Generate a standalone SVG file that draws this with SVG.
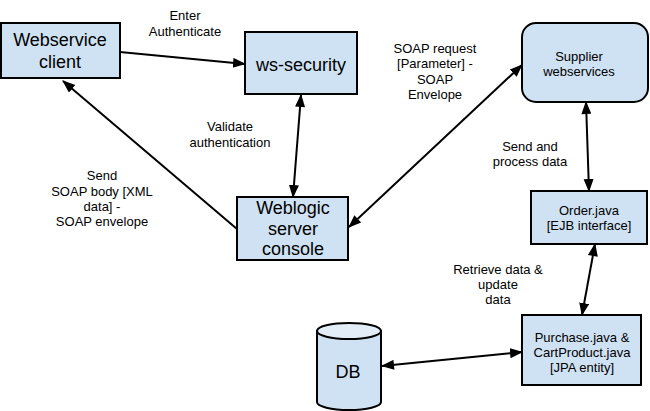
<svg xmlns="http://www.w3.org/2000/svg" width="650" height="411" viewBox="0 0 650 411">
<style>
.box{fill:#cfe2f3;stroke:#000;stroke-width:2}
.big{font-family:"Liberation Sans",Arial,sans-serif;font-size:18px;fill:#000;text-anchor:middle}
.sm{font-family:"Liberation Sans",Arial,sans-serif;font-size:13px;fill:#000;text-anchor:middle}
.c{stroke:#000;stroke-width:2;fill:none}
</style>
<defs>
<marker id="ae" markerUnits="userSpaceOnUse" markerWidth="14" markerHeight="12" refX="12" refY="5" orient="auto">
<path d="M0,0 L13,5 L0,10 Z" fill="#000"/>
</marker>
<marker id="as" markerUnits="userSpaceOnUse" markerWidth="14" markerHeight="12" refX="1" refY="5" orient="auto">
<path d="M13,0 L0,5 L13,10 Z" fill="#000"/>
</marker>
</defs>
<rect width="650" height="411" fill="#fff"/>
<g id="connectors">
<line class="c" x1="120" y1="52" x2="245" y2="64" marker-end="url(#ae)"/>
<line class="c" x1="237" y1="229" x2="63" y2="81" marker-end="url(#ae)"/>
<line class="c" x1="301" y1="95" x2="293" y2="197" marker-start="url(#as)" marker-end="url(#ae)"/>
<line class="c" x1="349" y1="227" x2="522" y2="65" marker-start="url(#as)" marker-end="url(#ae)"/>
<line class="c" x1="586" y1="102" x2="589" y2="191" marker-start="url(#as)" marker-end="url(#ae)"/>
<line class="c" x1="595" y1="244" x2="582" y2="315" marker-start="url(#as)" marker-end="url(#ae)"/>
<line class="c" x1="382" y1="366" x2="522" y2="352" marker-start="url(#as)" marker-end="url(#ae)"/>
</g>
<g id="labels">
<text class="sm" x="185" y="20">Enter</text>
<text class="sm" x="185" y="36">Authenticate</text>
<text class="sm" x="230" y="131">Validate</text>
<text class="sm" x="230" y="147">authentication</text>
<text class="sm" x="102" y="180">Send</text>
<text class="sm" x="102" y="196">SOAP body [XML</text>
<text class="sm" x="102" y="211">data] -</text>
<text class="sm" x="102" y="226">SOAP envelope</text>
<text class="sm" x="435" y="53">SOAP request</text>
<text class="sm" x="435" y="68">[Parameter] -</text>
<text class="sm" x="435" y="84">SOAP</text>
<text class="sm" x="435" y="99">Envelope</text>
<text class="sm" x="530" y="151">Send and</text>
<text class="sm" x="530" y="166">process data</text>
<text class="sm" x="498" y="274">Retrieve data &amp;</text>
<text class="sm" x="498" y="289">update</text>
<text class="sm" x="498" y="304">data</text>
</g>
<g id="webservice-client">
<rect class="box" x="1" y="23" width="119" height="55"/>
<text class="big" x="60" y="46">Webservice</text>
<text class="big" x="60" y="68">client</text>
</g>
<g id="ws-security">
<rect class="box" x="245" y="32" width="112" height="62"/>
<text class="big" x="301" y="71">ws-security</text>
</g>
<g id="weblogic">
<rect class="box" x="237" y="197" width="111" height="63"/>
<text class="big" x="293" y="214">Weblogic</text>
<text class="big" x="293" y="235">server</text>
<text class="big" x="293" y="255">console</text>
</g>
<g id="supplier">
<rect class="box" x="522" y="23" width="126" height="79" rx="14" ry="14"/>
<text class="sm" x="579" y="61">Supplier</text>
<text class="sm" x="579" y="76">webservices</text>
</g>
<g id="order">
<rect class="box" x="531" y="191" width="116" height="53"/>
<text class="sm" x="589" y="215">Order.java</text>
<text class="sm" x="589" y="230">[EJB interface]</text>
</g>
<g id="purchase">
<rect class="box" x="522" y="315" width="119" height="70"/>
<text class="sm" x="582" y="342">Purchase.java &amp;</text>
<text class="sm" x="582" y="357">CartProduct.java</text>
<text class="sm" x="582" y="372">[JPA entity]</text>
</g>
<g id="db">
<path class="box" d="M317,331 L317,402 A32,8 0 0 0 381,402 L381,331 Z"/>
<ellipse cx="349" cy="331" rx="32" ry="8" fill="#e2edf8" stroke="#000" stroke-width="2"/>
<text class="big" x="348" y="378">DB</text>
</g>
</svg>
